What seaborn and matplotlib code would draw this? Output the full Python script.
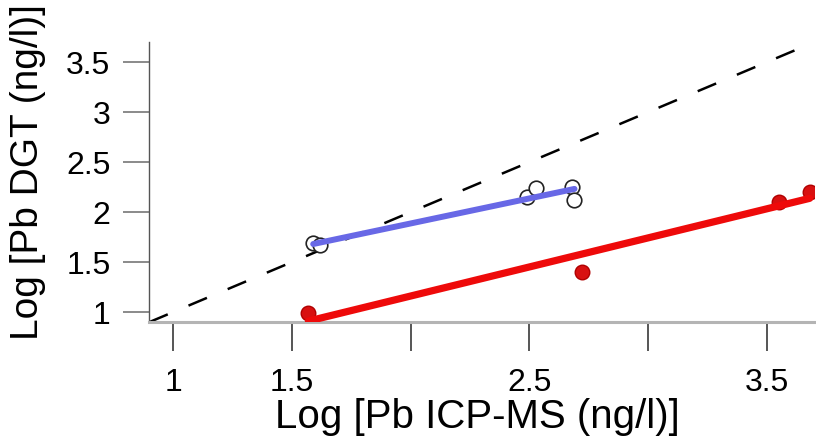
# Import libraries
import numpy as np
import pandas as pd
import matplotlib
matplotlib.use("Agg")
import matplotlib.pyplot as plt
import seaborn as sns

# Data (log10 values)
blue_x = [1.59, 1.62, 2.49, 2.53, 2.68, 2.69]
blue_y = [1.69, 1.67, 2.15, 2.24, 2.25, 2.12]
red_x = [1.57, 2.72, 3.55, 3.68]
red_y = [0.99, 1.40, 2.10, 2.20]

x_ticks = [1, 1.5, 2, 2.5, 3, 3.5]
x_tick_labels = ['1', '1.5', '', '2.5', '', '3.5']
y_ticks = [1, 1.5, 2, 2.5, 3, 3.5]
y_tick_labels = ['1', '1.5', '2', '2.5', '3', '3.5']
one_to_one = [0.9, 3.7]

blue_df = pd.DataFrame({'icpms': blue_x, 'dgt': blue_y})
red_df = pd.DataFrame({'icpms': red_x, 'dgt': red_y})

sns.set_style("white")
plt.rcParams['font.family'] = ['Liberation Sans', 'DejaVu Sans']
plt.rcParams['text.color'] = 'black'
plt.rcParams['axes.labelcolor'] = 'black'
plt.rcParams['xtick.labelcolor'] = 'black'
plt.rcParams['ytick.labelcolor'] = 'black'

fig = plt.figure(figsize=(8.16, 4.48), dpi=100)
ax = fig.add_axes([0.183, 0.281, 0.815, 0.625])

# 1:1 line
ax.plot(one_to_one, one_to_one, color='black', lw=1.8, dashes=(8, 9), zorder=1)

# blue series: open circles + fitted line
sns.regplot(data=blue_df, x='icpms', y='dgt', ci=None, ax=ax,
            scatter_kws=dict(s=110, facecolor='white', edgecolor='#222222',
                             linewidths=1.2, alpha=1, zorder=2),
            line_kws=dict(color='#6868e6', lw=4.3, zorder=3))

# red series: filled circles + fitted line
sns.regplot(data=red_df, x='icpms', y='dgt', ci=None, ax=ax,
            scatter_kws=dict(s=110, color='#d81010', edgecolor='#b00000',
                             linewidths=1, alpha=1, zorder=2),
            line_kws=dict(color='#ee0a0a', lw=5.2, zorder=3))

ax.set_xlim(0.9, 3.7)
ax.set_ylim(0.9, 3.7)
ax.set_xticks(x_ticks)
ax.set_xticklabels(x_tick_labels)
ax.set_yticks(y_ticks)
ax.set_yticklabels(y_tick_labels)

for s in ['top', 'right']:
    ax.spines[s].set_visible(False)
ax.spines['bottom'].set_color('#b4b4b4')
ax.spines['bottom'].set_linewidth(2.2)
ax.spines['left'].set_color('#555555')
ax.spines['left'].set_linewidth(1.0)

ax.tick_params(axis='x', direction='out', length=21, width=1.4, color='#555555',
               labelsize=23, pad=12, bottom=True)
ax.tick_params(axis='y', direction='out', length=19, width=1.4, color='#8a8a8a',
               labelsize=23, pad=9, left=True)

ax.set_xlabel("Log [Pb ICP-MS (ng/l)]", fontsize=29)
ax.xaxis.set_label_coords(0.493, -0.27)
ax.set_ylabel("Log [Pb DGT (ng/l)]", fontsize=28)
ax.yaxis.set_label_coords(-0.155, 0.535)

fig.savefig("out.png", dpi=100)
